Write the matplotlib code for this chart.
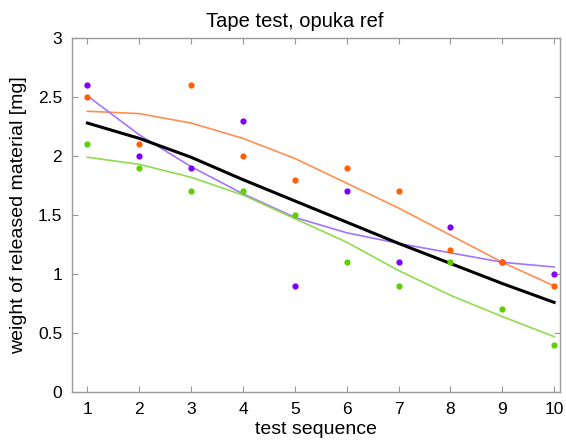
import matplotlib.pyplot as plt

plt.rcParams['font.family'] = ['Liberation Sans', 'DejaVu Sans']

seq = [1, 2, 3, 4, 5, 6, 7, 8, 9, 10]

# measured points
orange_pts = [2.5, 2.1, 2.6, 2.0, 1.8, 1.9, 1.7, 1.2, 1.1, 0.9]
purple_pts = [2.6, 2.0, 1.9, 2.3, 0.9, 1.7, 1.1, 1.4, 1.1, 1.0]
green_pts = [2.1, 1.9, 1.7, 1.7, 1.5, 1.1, 0.9, 1.1, 0.7, 0.4]

# fitted curves
orange_fit = [2.38, 2.36, 2.28, 2.15, 1.98, 1.77, 1.56, 1.33, 1.10, 0.90]
purple_fit = [2.51, 2.18, 1.91, 1.68, 1.48, 1.35, 1.26, 1.18, 1.10, 1.06]
green_fit = [1.99, 1.93, 1.82, 1.67, 1.47, 1.27, 1.03, 0.82, 0.64, 0.47]
mean_fit = [2.28, 2.15, 1.99, 1.80, 1.62, 1.44, 1.26, 1.09, 0.92, 0.76]

fig = plt.figure(figsize=(5.66, 4.43), dpi=100)
ax = fig.add_axes([0.127, 0.115, 0.863, 0.799])

ax.plot(seq, orange_fit, color='#ff8f4f', lw=1.2)
ax.plot(seq, purple_fit, color='#a274ff', lw=1.2)
ax.plot(seq, green_fit, color='#8fdc4f', lw=1.2)
ax.plot(seq, mean_fit, color='black', lw=2.2)

ax.plot(seq, purple_pts, 'o', color='#7f00ff', ms=4.5, mec='none')
ax.plot(seq, green_pts, 'o', color='#5fcf00', ms=4.5, mec='none')
ax.plot(seq, orange_pts, 'o', color='#ff6000', ms=4.5, mec='none')

ax.set_xlim(0.7, 10.12)
ax.set_ylim(0, 3)
ax.set_xticks(seq)
ax.set_yticks([0, 0.5, 1, 1.5, 2, 2.5, 3])
ax.set_yticklabels(['0', '0.5', '1', '1.5', '2', '2.5', '3'])

for s in ax.spines.values():
    s.set_color('#999999')
    s.set_linewidth(1.0)
ax.tick_params(direction='in', top=True, right=True, length=4, width=0.8,
               color='#999999', labelsize=12.5, labelcolor='black', pad=7)

ax.set_title('Tape test, opuka ref', fontsize=14.5, x=0.457, pad=8)
ax.set_xlabel('test sequence', fontsize=14, labelpad=3)
ax.set_ylabel('weight of released material [mg]', fontsize=14, labelpad=8)

fig.savefig('out.png', dpi=100)
